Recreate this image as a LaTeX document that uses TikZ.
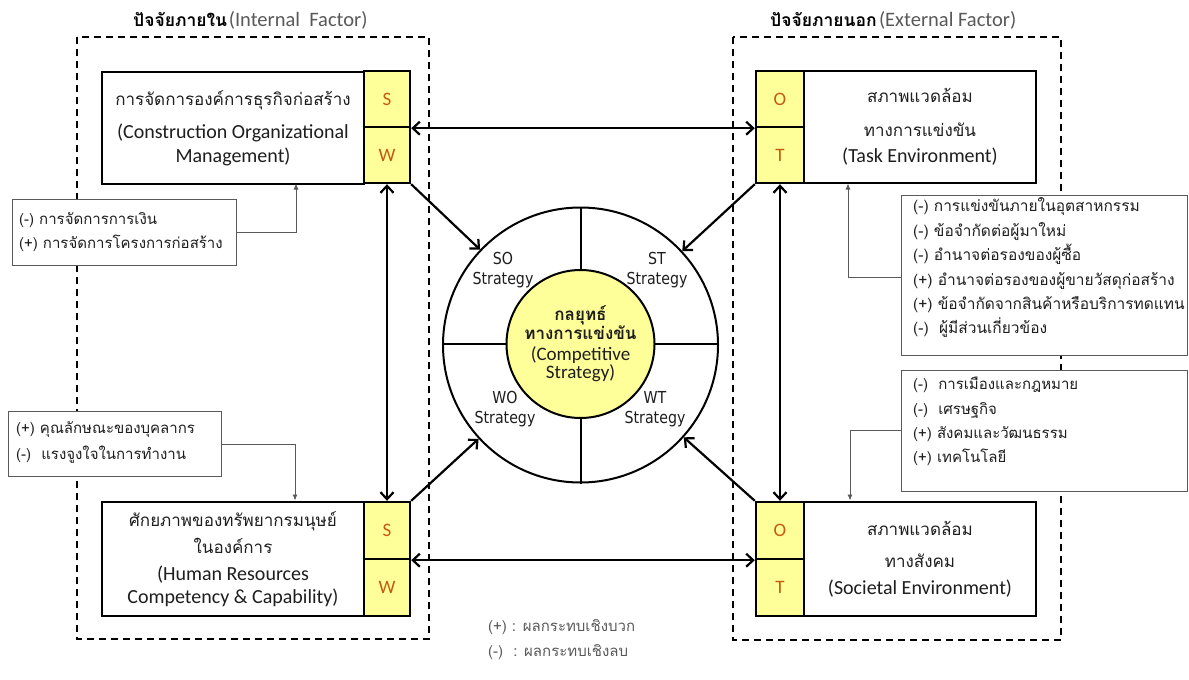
\documentclass[tikz,border=0pt]{standalone}
\usepackage{fontspec}
\setmainfont{Carlito}
\newfontfamily\thai[Script=Thai]{Loma}
\newfontfamily\verd[FakeStretch=0.86]{DejaVu Sans}
\usetikzlibrary{arrows.meta}
\definecolor{yfill}{RGB}{255,255,153}
\definecolor{letter}{RGB}{197,90,17}
\definecolor{tgray}{RGB}{89,89,89}
\definecolor{txt}{RGB}{30,30,30}
\definecolor{lgray}{RGB}{90,90,90}
\newcommand\thl{\thai\fontsize{17}{20}\selectfont}
\newcommand\thb{\thai\bfseries\fontsize{17}{22}\selectfont}
\newcommand\enl{\normalfont\fontsize{20}{23.5}\selectfont}
\newcommand\enc{\normalfont\fontsize{19}{21}\selectfont}
\begin{document}
\begin{tikzpicture}[x=1pt,y=-1pt,
  dashbox/.style={draw=black,line width=1.4pt,dash pattern=on 7pt off 5pt},
  mainbox/.style={draw=black,line width=2.4pt,fill=white,align=center,inner sep=0pt,text=txt,font=\fontsize{20}{23.5}\selectfont},
  ycell/.style={draw=black,line width=2.4pt,fill=yfill,text=letter,inner sep=0pt,font=\fontsize{19}{23}\selectfont},
  sidebox/.style={draw=lgray,line width=0.9pt,fill=white,inner sep=0pt,anchor=north west},
  sidetext/.style={anchor=west,align=left,inner sep=0pt,text=txt,font=\thai\fontsize{15}{24.4}\selectfont},
  strat/.style={align=center,inner sep=0pt,text=txt,font=\verd\fontsize{16.5}{20}\selectfont},
  bigarrow/.style={line width=2.2pt,-{Straight Barb[length=7pt,width=13pt,line width=2.2pt]}},
  dblarrow/.style={line width=2.2pt,{Straight Barb[length=7pt,width=13pt,line width=2.2pt]}-{Straight Barb[length=7pt,width=13pt,line width=2.2pt]}},
  thinarrow/.style={draw=lgray,line width=0.9pt,-{Latex[length=6pt,width=5pt]}}
]
\useasboundingbox (0,0) rectangle (1189,680);
\fill[white] (0,0) rectangle (1189,680);

% dashed frames
\draw[dashbox] (77,37) rectangle (429,639);
\draw[dashbox] (733,37) rectangle (1061,640);

% titles
\node[anchor=west,inner sep=0pt] (ttl) at (133,20) {{\thai\bfseries\fontsize{17.5}{20}\selectfont ปัจจัยภายใน}\,{\color{tgray}\fontsize{20.5}{22}\selectfont(Internal\ \ Factor)}};
\node[anchor=west,inner sep=0pt] (ttr) at (770,20) {{\thai\bfseries\fontsize{17.5}{20}\selectfont ปัจจัยภายนอก}\ {\color{tgray}\fontsize{20.5}{22}\selectfont(External Factor)}};

% strategy circle
\node[circle,draw=black,line width=2pt,minimum size=275pt,inner sep=0pt,fill=white] (outer) at (580.5,345) {};
\node[circle,minimum size=148pt,inner sep=0pt] (innerc) at (580.5,344) {};
\draw[line width=2pt] (innerc.north) -- (innerc.north |- outer.north);
\draw[line width=2pt] (innerc.south) -- (innerc.south |- outer.south);
\draw[line width=2pt] (innerc.west) -- (innerc.west -| outer.west);
\draw[line width=2pt] (innerc.east) -- (innerc.east -| outer.east);
\node[circle,draw=black,line width=2pt,fill=yfill,minimum size=148pt,inner sep=0pt,align=center,text=txt] (core) at (580.5,344)
  {\thb กลยุทธ์\\[0pt]\thb ทางการแข่งขัน\\[6pt]\enc(Competitive\\\enc Strategy)};
\node[strat] (so) at (503,270) {SO\\Strategy};
\node[strat] (st) at (657,270) {ST\\Strategy};
\node[strat] (wo) at (505,409) {WO\\Strategy};
\node[strat] (wt) at (655,409) {WT\\Strategy};

% top-left box
\node[mainbox,minimum width=262pt,minimum height=112pt] (tlmain) at (233,128)
  {\thl การจัดการองค์การธุรกิจก่อสร้าง\\[10pt]\enl(Construction Organizational\\\enl Management)};
\node[ycell,minimum width=46pt,minimum height=56pt] (tlS) at (387,99) {S};
\node[ycell,minimum width=46pt,minimum height=56pt] (tlW) at (387,155) {W};

% bottom-left box
\node[mainbox,minimum width=262pt,minimum height=114pt] (blmain) at (233,559)
  {\thl ศักยภาพของทรัพยากรมนุษย์\\[4pt]\thl ในองค์การ\\[3pt]\enl(Human Resources\\\enl Competency \& Capability)};
\node[ycell,minimum width=46pt,minimum height=57pt] (blS) at (387,530.5) {S};
\node[ycell,minimum width=46pt,minimum height=57pt] (blW) at (387,587.5) {W};

% top-right box
\node[ycell,minimum width=48pt,minimum height=56pt] (trO) at (780,99) {O};
\node[ycell,minimum width=48pt,minimum height=56pt] (trT) at (780,155) {T};
\node[mainbox,minimum width=232pt,minimum height=112pt] (trmain) at (920,127)
  {\thl สภาพแวดล้อม\\[10pt]\thl ทางการแข่งขัน\\[3pt]\enl(Task Environment)};

% bottom-right box
\node[ycell,minimum width=48pt,minimum height=57pt] (brO) at (780,530.5) {O};
\node[ycell,minimum width=48pt,minimum height=57pt] (brT) at (780,587.5) {T};
\node[mainbox,minimum width=232pt,minimum height=114pt] (brmain) at (920,559)
  {\thl สภาพแวดล้อม\\[9pt]\thl ทางสังคม\\[3pt]\enl(Societal Environment)};

% side boxes
\node[sidebox,minimum width=224pt,minimum height=66pt] (tlside) at (12,199) {};
\node[sidetext] (tlsidet) at (19,232) {(-) การจัดการการเงิน\\(+) การจัดการโครงการก่อสร้าง};
\node[sidebox,minimum width=213pt,minimum height=65pt] (blside) at (8,411) {};
\node[sidetext,font=\thai\fontsize{15}{26}\selectfont] (blsidet) at (16,442) {(+) คุณลักษณะของบุคลากร\\(-)\ \ แรงจูงใจในการทำงาน};
\node[sidebox,minimum width=286pt,minimum height=160pt] (trside) at (901,195) {};
\node[sidetext,font=\thai\fontsize{15.5}{24.4}\selectfont] (trsidet) at (913,268) {(-) การแข่งขันภายในอุตสาหกรรม\\(-) ข้อจำกัดต่อผู้มาใหม่\\(-) อำนาจต่อรองของผู้ซื้อ\\(+) อำนาจต่อรองของผู้ขายวัสดุก่อสร้าง\\(+) ข้อจำกัดจากสินค้าหรือบริการทดแทน\\(-)\ \ ผู้มีส่วนเกี่ยวข้อง};
\node[sidebox,minimum width=286pt,minimum height=121pt] (brside) at (901,370) {};
\node[sidetext] (brsidet) at (913,421.5) {(-)\ \ การเมืองและกฎหมาย\\(-)\ \ เศรษฐกิจ\\(+) สังคมและวัฒนธรรม\\(+) เทคโนโลยี};

% thin connectors
\coordinate (c1) at (296,183.5);
\coordinate (c2) at (295,500.5);
\coordinate (c3) at (848,183.5);
\coordinate (c4) at (850,500.5);
\draw[thinarrow] (tlside.east) -| (c1);
\draw[thinarrow] (blside.east) -| (c2);
\draw[thinarrow] (trside.west |- 0,277) -| (c3);
\draw[thinarrow] (brside.west |- 0,430) -| (c4);

% thick connectors
\draw[dblarrow] (tlS.south east) -- (trO.south west);
\draw[dblarrow] (blS.south east) -- (brO.south west);
\draw[dblarrow] (tlW.south) -- (blS.north);
\draw[dblarrow] (trT.south) -- (brO.north);
\draw[bigarrow] (tlW.south east) -- (outer);
\draw[bigarrow] (trT.south west) -- (outer);
\draw[bigarrow] (blS.north east) -- (outer);
\draw[bigarrow] (brO.north west) -- (outer);

% legend
\node[anchor=west,align=left,inner sep=0pt,text=tgray,font=\thai\fontsize{15}{25}\selectfont] (legend) at (488,639.5) {(+) : ผลกระทบเชิงบวก\\(-)\ \ : ผลกระทบเชิงลบ};
\end{tikzpicture}
\end{document}
